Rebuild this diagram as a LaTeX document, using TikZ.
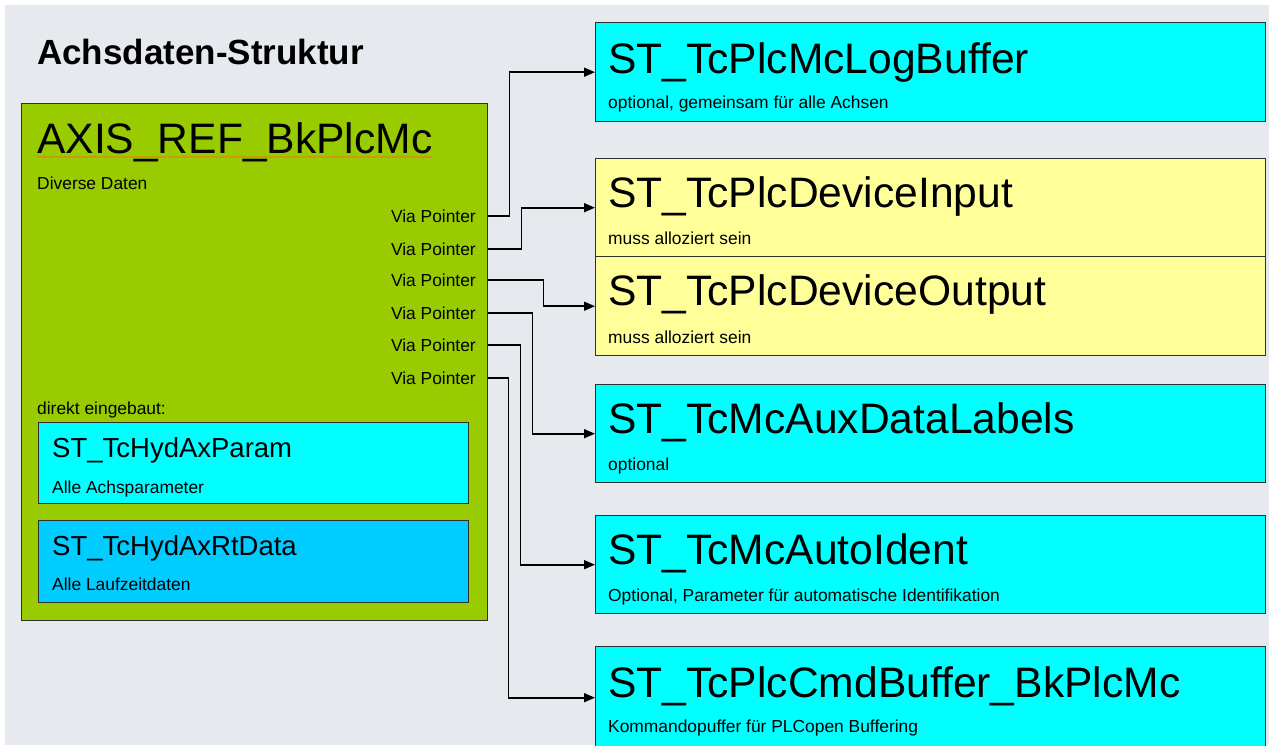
\documentclass[tikz,border=0pt]{standalone}
\usepackage{fontspec}
\setmainfont{Liberation Sans}
\usetikzlibrary{arrows.meta,calc,decorations.pathmorphing}
\definecolor{bg}{HTML}{E6EAEE}
\definecolor{axgreen}{HTML}{99CC00}
\definecolor{boxcyan}{HTML}{00FFFF}
\definecolor{boxyellow}{HTML}{FFFF99}
\definecolor{boxblue}{HTML}{00CCFF}
\definecolor{edge}{HTML}{303030}
\begin{document}
\begin{tikzpicture}[x=1pt,y=-1pt,
  box/.style={draw=edge, line width=1.4pt, rectangle, inner sep=0pt, anchor=north west},
  rbox/.style={box, minimum width=670pt},
  bigtitle/.style={font=\fontsize{42.6}{43}\selectfont, anchor=base west, inner sep=0pt},
  midtitle/.style={font=\fontsize{27.5}{28}\selectfont, anchor=base west, inner sep=0pt},
  small/.style={font=\fontsize{17.4}{18}\selectfont, anchor=base west, inner sep=0pt},
  vp/.style={font=\fontsize{17.4}{18}\selectfont, anchor=east, inner sep=0pt},
  conn/.style={draw=black, line width=1.6pt, -{Triangle[length=11pt,width=9pt]}},
]
\useasboundingbox (0,0) rectangle (1269,745);
\fill[bg] (5,5) rectangle (1269,745);

% heading
\node[font=\fontsize{35}{35}\selectfont\bfseries, anchor=base west, inner sep=0pt] (head) at (37,64) {Achsdaten-Struktur};

% main green structure
\node[box, fill=axgreen, minimum width=466pt, minimum height=517pt] (axis) at (21,103) {};
\node[bigtitle] (axtitle) at ($(axis.north west)+(16,50)$) {AXIS\_REF\_BkPlcMc};
\draw[decorate, decoration={snake, amplitude=0.6pt, segment length=3pt}, color=orange!85!red, line width=0.6pt]
  ($(axtitle.base west)+(0,4)$) -- ($(axtitle.base east)+(0,4)$);
\node[small] (diverse) at ($(axis.north west)+(16,86)$) {Diverse Daten};
\node[vp] (vp1) at (476,216) {Via Pointer};
\node[vp] (vp2) at (476,249) {Via Pointer};
\node[vp] (vp3) at (476,280) {Via Pointer};
\node[vp] (vp4) at (476,313) {Via Pointer};
\node[vp] (vp5) at (476,345) {Via Pointer};
\node[vp] (vp6) at (476,378) {Via Pointer};
\node[small] (direkt) at ($(axis.north west)+(16,311)$) {direkt eingebaut:};

% embedded boxes
\node[box, fill=boxcyan, minimum width=430pt, minimum height=81pt] (param) at (38,422) {};
\node[midtitle] (paramt) at ($(param.north west)+(14,35)$) {ST\_TcHydAxParam};
\node[small] (params) at ($(param.north west)+(14,71)$) {Alle Achsparameter};
\node[box, fill=boxblue, minimum width=430pt, minimum height=82pt] (rt) at (38,520) {};
\node[midtitle] (rtt) at ($(rt.north west)+(14,35)$) {ST\_TcHydAxRtData};
\node[small] (rts) at ($(rt.north west)+(14,70)$) {Alle Laufzeitdaten};

% pointer targets
\node[rbox, fill=boxcyan, minimum height=99pt] (logbuf) at (595,22) {};
\node[bigtitle] at ($(logbuf.north west)+(13,51)$) {ST\_TcPlcMcLogBuffer};
\node[small] at ($(logbuf.north west)+(13,86)$) {optional, gemeinsam für alle Achsen};

\node[rbox, fill=boxyellow, minimum height=98pt] (devin) at (595,158) {};
\node[bigtitle] at ($(devin.north west)+(13,49)$) {ST\_TcPlcDeviceInput};
\node[small] at ($(devin.north west)+(13,86)$) {muss alloziert sein};

\node[rbox, fill=boxyellow, minimum height=99pt] (devout) at (595,256) {};
\node[bigtitle] at ($(devout.north west)+(13,49)$) {ST\_TcPlcDeviceOutput};
\node[small] at ($(devout.north west)+(13,87)$) {muss alloziert sein};

\node[rbox, fill=boxcyan, minimum height=98pt] (aux) at (595,384) {};
\node[bigtitle] at ($(aux.north west)+(13,49)$) {ST\_TcMcAuxDataLabels};
\node[small] at ($(aux.north west)+(13,86)$) {optional};

\node[rbox, fill=boxcyan, minimum height=98pt] (autoid) at (595,515) {};
\node[bigtitle] at ($(autoid.north west)+(13,49)$) {ST\_TcMcAutoIdent};
\node[small] at ($(autoid.north west)+(13,86)$) {Optional, Parameter für automatische Identifikation};

\node[rbox, fill=boxcyan, minimum height=102pt] (cmdbuf) at (595,646) {};
\node[bigtitle] at ($(cmdbuf.north west)+(13,51)$) {ST\_TcPlcCmdBuffer\_BkPlcMc};
\node[small] at ($(cmdbuf.north west)+(13,86)$) {Kommandopuffer für PLCopen Buffering};

% connectors
\draw[conn] (axis.east |- vp1.east) -- ++(21,0) |- (logbuf.west);
\draw[conn] (axis.east |- vp2.east) -- ++(33,0) |- (devin.west);
\draw[conn] (axis.east |- vp3.east) -- ++(55,0) |- (devout.west);
\draw[conn] (axis.east |- vp4.east) -- ++(44,0) |- (aux.west);
\draw[conn] (axis.east |- vp5.east) -- ++(32,0) |- (autoid.west);
\draw[conn] (axis.east |- vp6.east) -- ++(20,0) |- (cmdbuf.west);
\end{tikzpicture}
\end{document}
